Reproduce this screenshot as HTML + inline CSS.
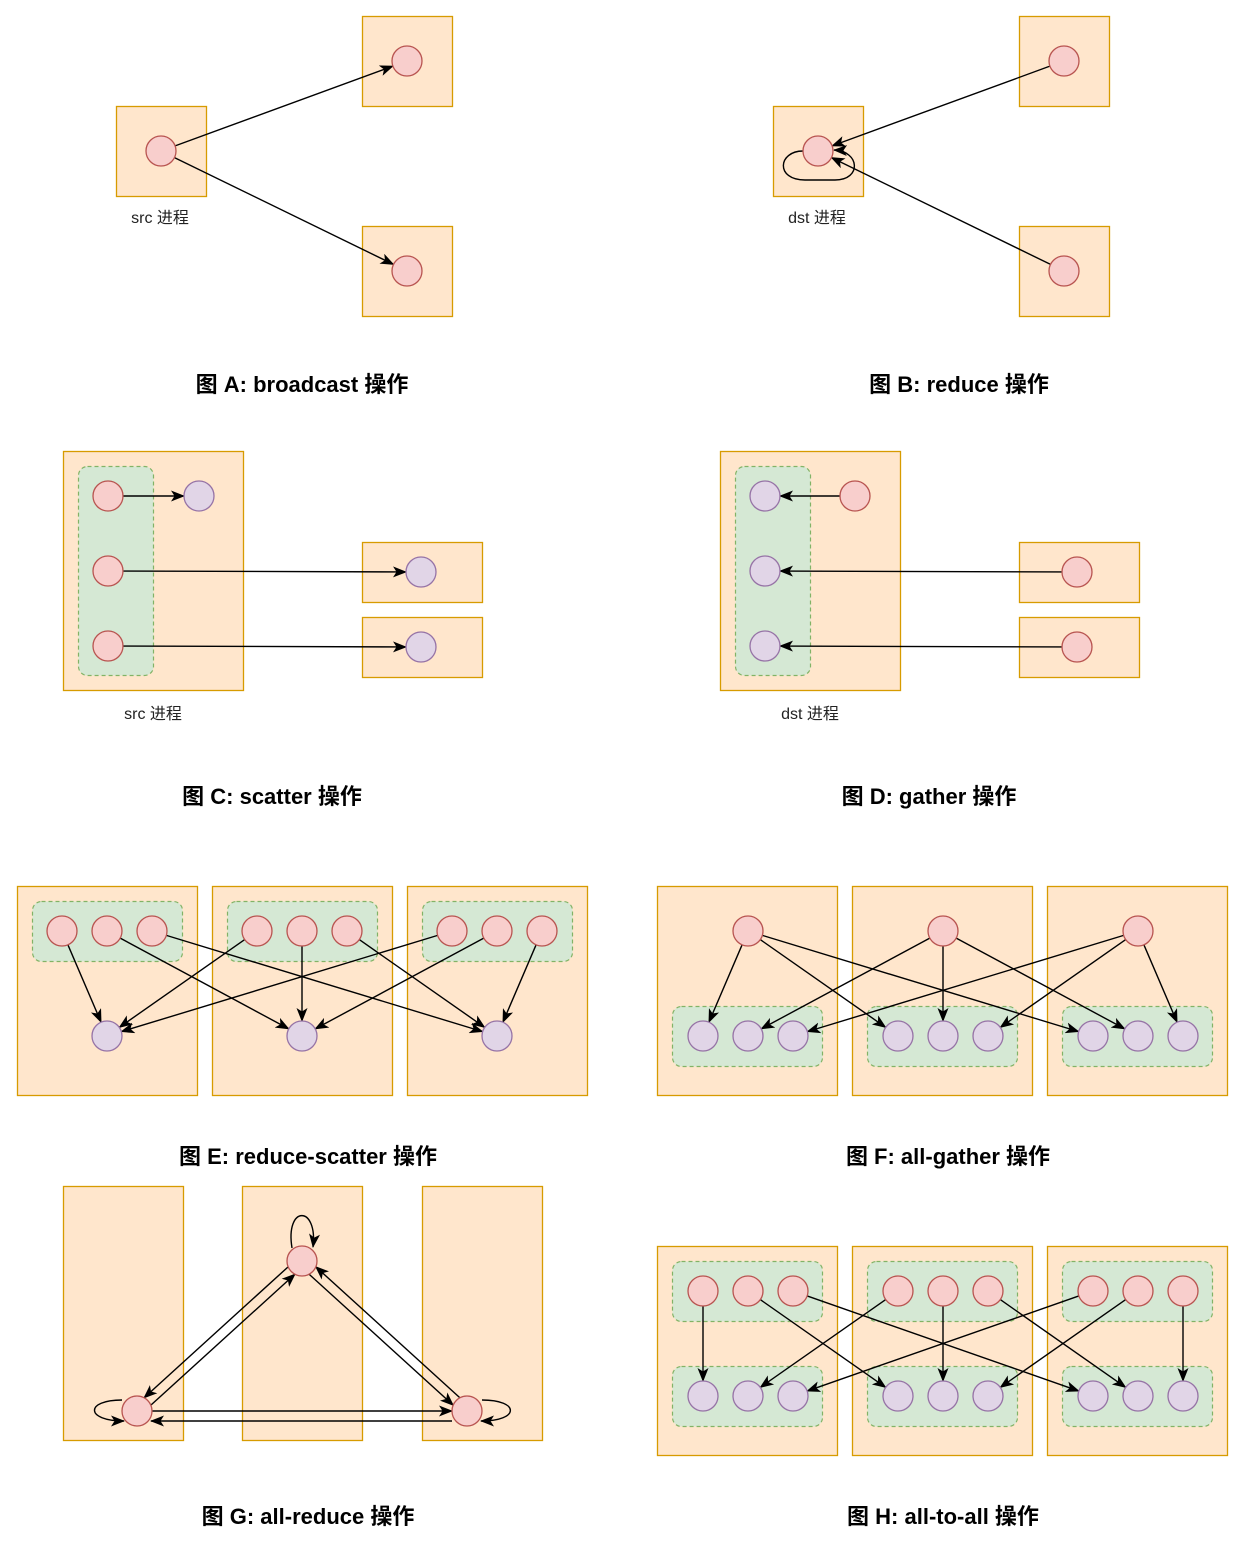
<!DOCTYPE html>
<html><head><meta charset="utf-8">
<style>
html,body{margin:0;padding:0;background:#fff;}
svg{display:block;}
text{font-family:"Liberation Sans","Noto Sans CJK SC",sans-serif;}
.title{font-size:22px;font-weight:bold;text-anchor:middle;fill:#000;}
.lbl{font-size:16px;text-anchor:middle;fill:#222;}
</style></head>
<body>
<svg id="s" width="1259" height="1562" viewBox="0 0 1259 1562" xmlns="http://www.w3.org/2000/svg">
<defs>
<marker id="ah" markerUnits="userSpaceOnUse" markerWidth="14" markerHeight="11" refX="13" refY="5.5" orient="auto">
<path d="M0,0 L14,5.5 L0,11 L3.5,5.5 Z" fill="#000"/>
</marker>
</defs>
<g id="boxes"></g><g id="groups"></g><g id="lines"></g><g id="nodes"></g>
<text class="lbl" x="160" y="223">src 进程</text>
<text class="lbl" x="817" y="223">dst 进程</text>
<text class="lbl" x="153" y="719">src 进程</text>
<text class="lbl" x="810" y="719">dst 进程</text>
<text class="title" x="302" y="392">图 A: broadcast 操作</text>
<text class="title" x="959" y="392">图 B: reduce 操作</text>
<text class="title" x="272" y="804">图 C: scatter 操作</text>
<text class="title" x="929" y="804">图 D: gather 操作</text>
<text class="title" x="308" y="1164">图 E: reduce-scatter 操作</text>
<text class="title" x="948" y="1164">图 F: all-gather 操作</text>
<text class="title" x="308" y="1524">图 G: all-reduce 操作</text>
<text class="title" x="943" y="1524">图 H: all-to-all 操作</text>
</svg>
<script>
var NS="http://www.w3.org/2000/svg";
var R=15;
function mk(parent,tag,attrs){var e=document.createElementNS(NS,tag);for(var k in attrs)e.setAttribute(k,attrs[k]);document.getElementById(parent).appendChild(e);return e;}
function box(x,y,w,h){var e=mk('boxes','rect',{x:x+.5,y:y+.5,width:w,height:h,fill:'#ffe6cc',stroke:'#d79b00','stroke-width':1.3});

}
function grp(x,y,w,h){var e=mk('groups','rect',{x:x+.5,y:y+.5,width:w,height:h,rx:9,fill:'#d5e8d4',stroke:'#82b366','stroke-width':1.2,'stroke-dasharray':'4 3'});

}
function red(x,y){var e=mk('nodes','circle',{cx:x,cy:y,r:R,fill:'#f8cecc',stroke:'#b85450','stroke-width':1.3});

}
function pur(x,y){var e=mk('nodes','circle',{cx:x,cy:y,r:R,fill:'#e1d5e7',stroke:'#9673a6','stroke-width':1.3});

}
function arrow(x1,y1,x2,y2,cut1,cut2){
 var dx=x2-x1,dy=y2-y1,L=Math.sqrt(dx*dx+dy*dy),ux=dx/L,uy=dy/L;
 var c1=cut1===undefined?R:cut1,c2=cut2===undefined?R:cut2;
 var e=mk('lines','line',{x1:x1+ux*c1,y1:y1+uy*c1,x2:x2-ux*c2,y2:y2-uy*c2,stroke:'#000','stroke-width':1.4,'marker-end':'url(#ah)'});
 
 }
function pth(d){var e=mk('lines','path',{d:d,fill:'none',stroke:'#000','stroke-width':1.4,'marker-end':'url(#ah)'});
 
 }

// A
box(116,106,90,90);box(362,16,90,90);box(362,226,90,90);
red(161,151);red(407,61);red(407,271);
arrow(161,151,407,61);arrow(161,151,407,271);
// B
box(773,106,90,90);box(1019,16,90,90);box(1019,226,90,90);
red(818,151);red(1064,61);red(1064,271);
arrow(1064,61,818,151);arrow(1064,271,818,151);
pth('M803,151 C778,151 775,180 805,180 L835,180 C862,180 860,151 834,150');
// C
box(63,451,180,239);grp(78,466,75,209);box(362,542,120,60);box(362,617,120,60);
red(108,496);red(108,571);red(108,646);pur(199,496);pur(421,572);pur(421,647);
arrow(108,496,199,496);arrow(108,571,421,572);arrow(108,646,421,647);
// D
box(720,451,180,239);grp(735,466,75,209);box(1019,542,120,60);box(1019,617,120,60);
pur(765,496);pur(765,571);pur(765,646);red(855,496);red(1077,572);red(1077,647);
arrow(855,496,765,496);arrow(1077,572,765,571);arrow(1077,647,765,646);
// E
var bx=[17,212,407];
for(var b=0;b<3;b++){box(bx[b],886,180,209);grp(bx[b]+15,901,150,60);}
for(var b=0;b<3;b++)for(var i=0;i<3;i++){arrow(bx[b]+45+45*i,931,bx[i]+90,1036);}
for(var b=0;b<3;b++){for(var i=0;i<3;i++)red(bx[b]+45+45*i,931);pur(bx[b]+90,1036);}
// F
var fx=[657,852,1047];
for(var b=0;b<3;b++){box(fx[b],886,180,209);grp(fx[b]+15,1006,150,60);}
for(var b=0;b<3;b++)for(var j=0;j<3;j++)arrow(fx[b]+91,931,fx[j]+46+45*b,1036);
for(var b=0;b<3;b++){red(fx[b]+91,931);for(var i=0;i<3;i++)pur(fx[b]+46+45*i,1036);}
// G
box(63,1186,120,254);box(242,1186,120,254);box(422,1186,120,254);
var T=[302,1261],Lf=[137,1411],Rt=[467,1411];
function pair(a,c,off){var dx=c[0]-a[0],dy=c[1]-a[1],L=Math.sqrt(dx*dx+dy*dy),px=-dy/L*off,py=dx/L*off;
 arrow(a[0]+px,a[1]+py,c[0]+px,c[1]+py,14,14);arrow(c[0]-px,c[1]-py,a[0]-px,a[1]-py,14,14);}
pair(Lf,T,5);pair(T,Rt,5);
arrow(137,1411,467,1411);arrow(467,1421,137,1421,15,14);
pth('M122,1400 C85,1400 85,1421 124,1421');
pth('M292,1248 C285,1205 318,1205 313,1247');
pth('M482,1400 C520,1400 520,1421 481,1421');
red(302,1261);red(137,1411);red(467,1411);
// H
for(var b=0;b<3;b++){box(fx[b],1246,180,209);grp(fx[b]+15,1261,150,60);grp(fx[b]+15,1366,150,60);}
for(var b=0;b<3;b++)for(var i=0;i<3;i++)arrow(fx[b]+46+45*i,1291,fx[i]+46+45*b,1396);
for(var b=0;b<3;b++)for(var i=0;i<3;i++){red(fx[b]+46+45*i,1291);pur(fx[b]+46+45*i,1396);}
</script>
</body></html>
